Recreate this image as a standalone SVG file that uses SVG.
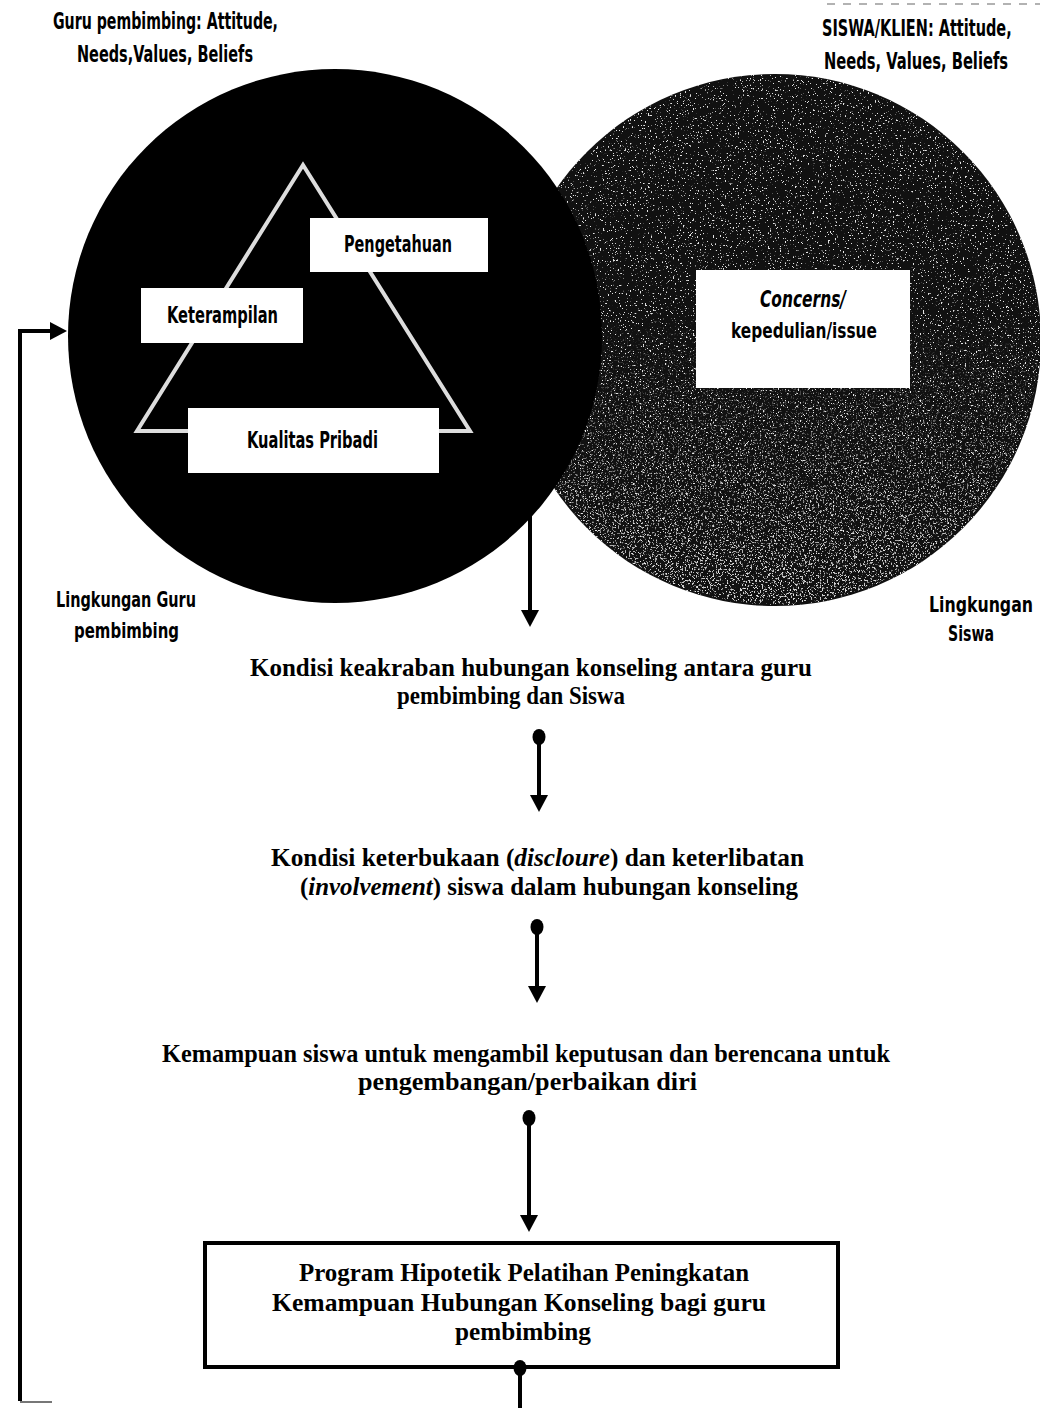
<svg xmlns="http://www.w3.org/2000/svg" width="1040" height="1408" viewBox="0 0 1040 1408">
<style>
.cond{font-family:'Liberation Sans Narrow','DejaVu Sans Condensed','Liberation Sans',sans-serif;font-weight:bold;fill:#000}
.condw{font-family:'Liberation Sans Narrow','DejaVu Sans Condensed','Liberation Sans',sans-serif;font-weight:bold;fill:#000;font-size:23px}
.serif{font-family:'Liberation Serif','Times New Roman',serif;font-weight:bold;font-size:25px;fill:#000}
.box{fill:#fff}
.conn{stroke:#000;stroke-width:4;fill:none}
.it{font-style:italic}
</style>
<defs>
<marker id="head" markerUnits="userSpaceOnUse" viewBox="0 0 17 18" refX="0" refY="9" markerWidth="17" markerHeight="18" orient="auto"><path d="M0,0 L17,9 L0,18 z" fill="#000"/></marker>
<marker id="dot" markerUnits="userSpaceOnUse" viewBox="-9 -7 18 14" refX="0" refY="0" markerWidth="18" markerHeight="14" orient="auto"><ellipse rx="8" ry="6.5" fill="#000"/></marker>
<filter id="speckle" x="0" y="0" width="1" height="1" color-interpolation-filters="sRGB">
<feTurbulence type="fractalNoise" baseFrequency="0.6" numOctaves="2" seed="7" result="n"/>
<feColorMatrix in="n" type="matrix" values="0 0 0 0 0.9 0 0 0 0 0.9 0 0 0 0 0.9 14 0 0 0 -9.1" result="w"/>
<feComposite in="w" in2="SourceGraphic" operator="in" result="wc"/>
<feMerge><feMergeNode in="SourceGraphic"/><feMergeNode in="wc"/></feMerge>
</filter>
<filter id="speckle2" x="0" y="0" width="1" height="1" color-interpolation-filters="sRGB">
<feTurbulence type="fractalNoise" baseFrequency="0.55" numOctaves="2" seed="13" result="n"/>
<feColorMatrix in="n" type="matrix" values="0 0 0 0 0.85 0 0 0 0 0.85 0 0 0 0 0.85 14 0 0 0 -8.3" result="w"/>
<feComposite in="w" in2="SourceGraphic" operator="in"/>
</filter>
<linearGradient id="fade" x1="0" y1="0" x2="0" y2="1">
<stop offset="0.45" stop-color="#fff" stop-opacity="0"/>
<stop offset="1" stop-color="#fff" stop-opacity="1"/>
</linearGradient>
<mask id="fadeMask" maskUnits="userSpaceOnUse" x="500" y="70" width="545" height="540">
<rect x="500" y="70" width="545" height="540" fill="url(#fade)"/>
</mask>
</defs>

<rect width="1040" height="1408" fill="#fff"/>
<line x1="827" y1="4" x2="1040" y2="4" stroke="#999" stroke-width="1.5" stroke-dasharray="8 8"/>

<g id="label-guru-top">
<text class="cond" font-size="23" x="53" y="29" textLength="225" lengthAdjust="spacingAndGlyphs">Guru pembimbing: Attitude,</text>
<text class="cond" font-size="23" x="77" y="62" textLength="176" lengthAdjust="spacingAndGlyphs">Needs,Values, Beliefs</text>
</g>
<g id="label-siswa-top">
<text class="cond" font-size="23" transform="translate(822,36) scale(0.7,1)" x="0" y="0" textLength="271" lengthAdjust="spacingAndGlyphs">SISWA/KLIEN: Attitude,</text>
<text class="cond" font-size="23" transform="translate(824,69) scale(0.7,1)" x="0" y="0" textLength="263" lengthAdjust="spacingAndGlyphs">Needs, Values, Beliefs</text>
</g>

<g id="circle-siswa">
<circle cx="775" cy="340" r="266" fill="#111" filter="url(#speckle)"/>
<circle cx="775" cy="340" r="264" fill="#fff" filter="url(#speckle2)" mask="url(#fadeMask)"/>
<rect x="696" y="270" width="214" height="118" class="box"/>
<text class="cond it" font-size="23" x="760" y="307" textLength="86" lengthAdjust="spacingAndGlyphs">Concerns/</text>
<text class="cond" font-size="21" x="731" y="338" textLength="146" lengthAdjust="spacingAndGlyphs">kepedulian/issue</text>
</g>

<g id="circle-guru">
<circle cx="335" cy="336" r="267" fill="#000"/>
<polygon points="303,165 137,431 470,431" fill="none" stroke="#ddd" stroke-width="4" stroke-linejoin="miter"/>
</g>

<g id="node-pengetahuan">
<rect x="310" y="218" width="178" height="54" class="box"/>
<text class="condw" x="344" y="252" textLength="108" lengthAdjust="spacingAndGlyphs">Pengetahuan</text>
</g>
<g id="node-keterampilan">
<rect x="141" y="288" width="162" height="55" class="box"/>
<text class="condw" x="167" y="323" textLength="111" lengthAdjust="spacingAndGlyphs">Keterampilan</text>
</g>
<g id="node-kualitas">
<rect x="188" y="408" width="251" height="65" class="box"/>
<text class="condw" x="247" y="448" textLength="131" lengthAdjust="spacingAndGlyphs">Kualitas Pribadi</text>
</g>

<g id="label-lingkungan-guru">
<text class="cond" font-size="21" x="56" y="607" textLength="140" lengthAdjust="spacingAndGlyphs">Lingkungan Guru</text>
<text class="cond" font-size="21" x="74" y="638" textLength="105" lengthAdjust="spacingAndGlyphs">pembimbing</text>
</g>
<g id="label-lingkungan-siswa">
<text class="cond" font-size="21" transform="translate(929,612) scale(0.8,1)" x="0" y="0" textLength="130" lengthAdjust="spacingAndGlyphs">Lingkungan</text>
<text class="cond" font-size="21" x="948" y="641" textLength="46" lengthAdjust="spacingAndGlyphs">Siswa</text>
</g>

<g id="node-keakraban">
<text class="serif" x="250" y="676" textLength="562" lengthAdjust="spacingAndGlyphs">Kondisi keakraban hubungan konseling antara guru</text>
<text class="serif" x="397" y="704" textLength="228" lengthAdjust="spacingAndGlyphs">pembimbing dan Siswa</text>
</g>
<g id="node-keterbukaan">
<text class="serif" x="271" y="866" textLength="533" lengthAdjust="spacingAndGlyphs">Kondisi keterbukaan (<tspan class="it">discloure</tspan>) dan keterlibatan</text>
<text class="serif" x="300" y="895" textLength="498" lengthAdjust="spacingAndGlyphs">(<tspan class="it">involvement</tspan>) siswa dalam hubungan konseling</text>
</g>
<g id="node-kemampuan">
<text class="serif" x="162" y="1062" textLength="728" lengthAdjust="spacingAndGlyphs">Kemampuan siswa untuk mengambil keputusan dan berencana untuk</text>
<text class="serif" x="358" y="1090" textLength="339" lengthAdjust="spacingAndGlyphs">pengembangan/perbaikan diri</text>
</g>
<g id="node-program">
<rect x="205" y="1243" width="633" height="124" fill="#fff" stroke="#000" stroke-width="4"/>
<text class="serif" x="299" y="1281" textLength="450" lengthAdjust="spacingAndGlyphs">Program Hipotetik Pelatihan Peningkatan</text>
<text class="serif" x="272" y="1311" textLength="494" lengthAdjust="spacingAndGlyphs">Kemampuan Hubungan Konseling bagi guru</text>
<text class="serif" x="455" y="1340" textLength="136" lengthAdjust="spacingAndGlyphs">pembimbing</text>
</g>

<g id="connectors">
<path class="conn" d="M530,515 V610" marker-end="url(#head)"/>
<path class="conn" d="M539,737 V795" marker-start="url(#dot)" marker-end="url(#head)"/>
<path class="conn" d="M537,927 V986" marker-start="url(#dot)" marker-end="url(#head)"/>
<path class="conn" d="M529,1118 V1215" marker-start="url(#dot)" marker-end="url(#head)"/>
<path class="conn" d="M520,1368 V1408" marker-start="url(#dot)"/>
<path class="conn" d="M20,1401 V331 H50" marker-end="url(#head)"/>
<line x1="20" y1="1402" x2="52" y2="1402" stroke="#777" stroke-width="2"/>
</g>
</svg>
